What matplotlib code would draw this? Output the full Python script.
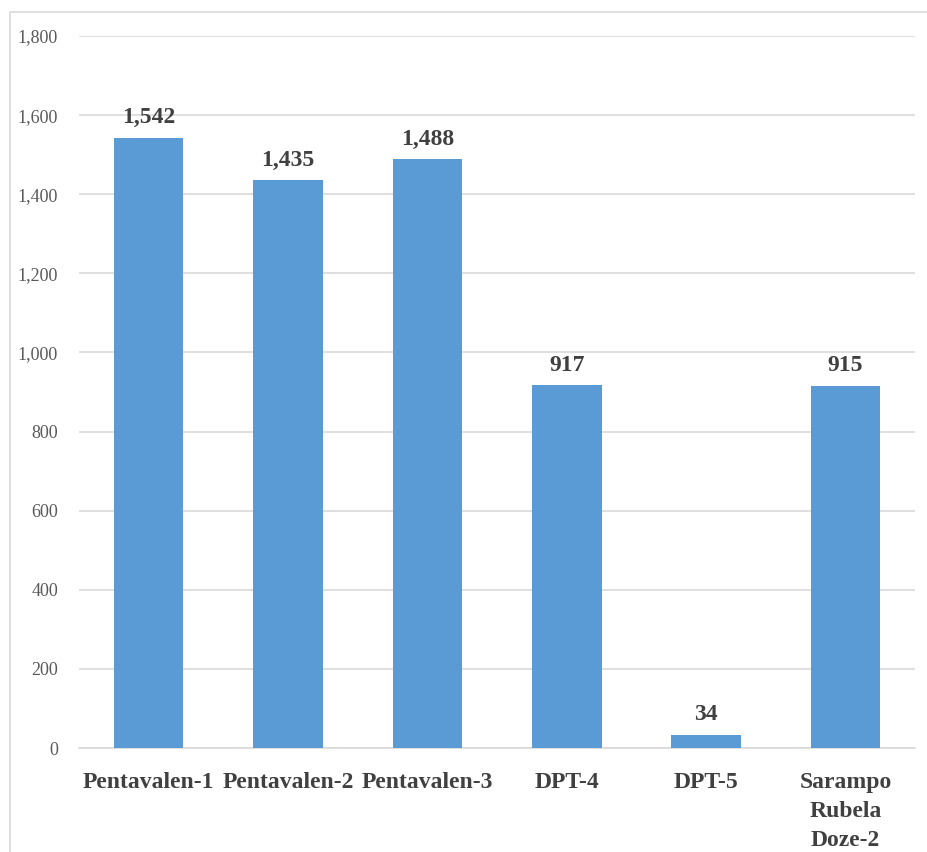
import matplotlib.pyplot as plt
from matplotlib.patches import Rectangle

categories = ["Pentavalen-1", "Pentavalen-2", "Pentavalen-3", "DPT-4", "DPT-5", "Sarampo\nRubela\nDoze-2"]
values = [1542, 1435, 1488, 917, 34, 915]
yticks = [0, 200, 400, 600, 800, 1000, 1200, 1400, 1600, 1800]


def main():
    plt.rcParams["font.family"] = ["Liberation Serif", "DejaVu Serif"]

    fig = plt.figure(figsize=(9.27, 8.52), dpi=100)
    ax = fig.add_axes([0.0852, 0.122, 0.902, 0.8357])

    # chart area frame (cut off on the right and bottom in the original)
    fig.patches.append(Rectangle((10 / 927, -0.1), 1.2, 1 - 12 / 852 + 0.1,
                                 transform=fig.transFigure, fill=False,
                                 edgecolor="#d9d9d9", linewidth=1.2))

    x = range(len(categories))
    bars = ax.bar(x, values, width=0.5, color="#5b9bd5", zorder=3)

    for rect, val in zip(bars, values):
        ax.annotate(f"{val:,}", (rect.get_x() + rect.get_width() / 2, rect.get_height()),
                    xytext=(0, 7), textcoords="offset points", ha="center", va="bottom",
                    fontsize=17, fontweight="bold", color="#404040")

    ax.set_xlim(-0.5, len(categories) - 0.5)
    ax.set_ylim(0, 1800)
    ax.set_yticks(yticks)
    ax.set_yticklabels([f"{v:,}" for v in yticks], fontsize=13, color="#595959")
    ax.set_xticks(list(x))
    ax.set_xticklabels(categories, fontsize=17, fontweight="bold", color="#404040",
                       linespacing=1.5, va="top")

    ax.grid(axis="y", color="#d9d9d9", linewidth=1.2, zorder=0)
    for side in ["top", "right", "left"]:
        ax.spines[side].set_visible(False)
    ax.spines["bottom"].set_color("#d9d9d9")
    ax.spines["bottom"].set_linewidth(1.2)
    ax.tick_params(axis="both", length=0)
    ax.tick_params(axis="y", pad=15)
    ax.tick_params(axis="x", pad=17)

    fig.savefig("out.png", dpi=100)


if __name__ == "__main__":
    main()
